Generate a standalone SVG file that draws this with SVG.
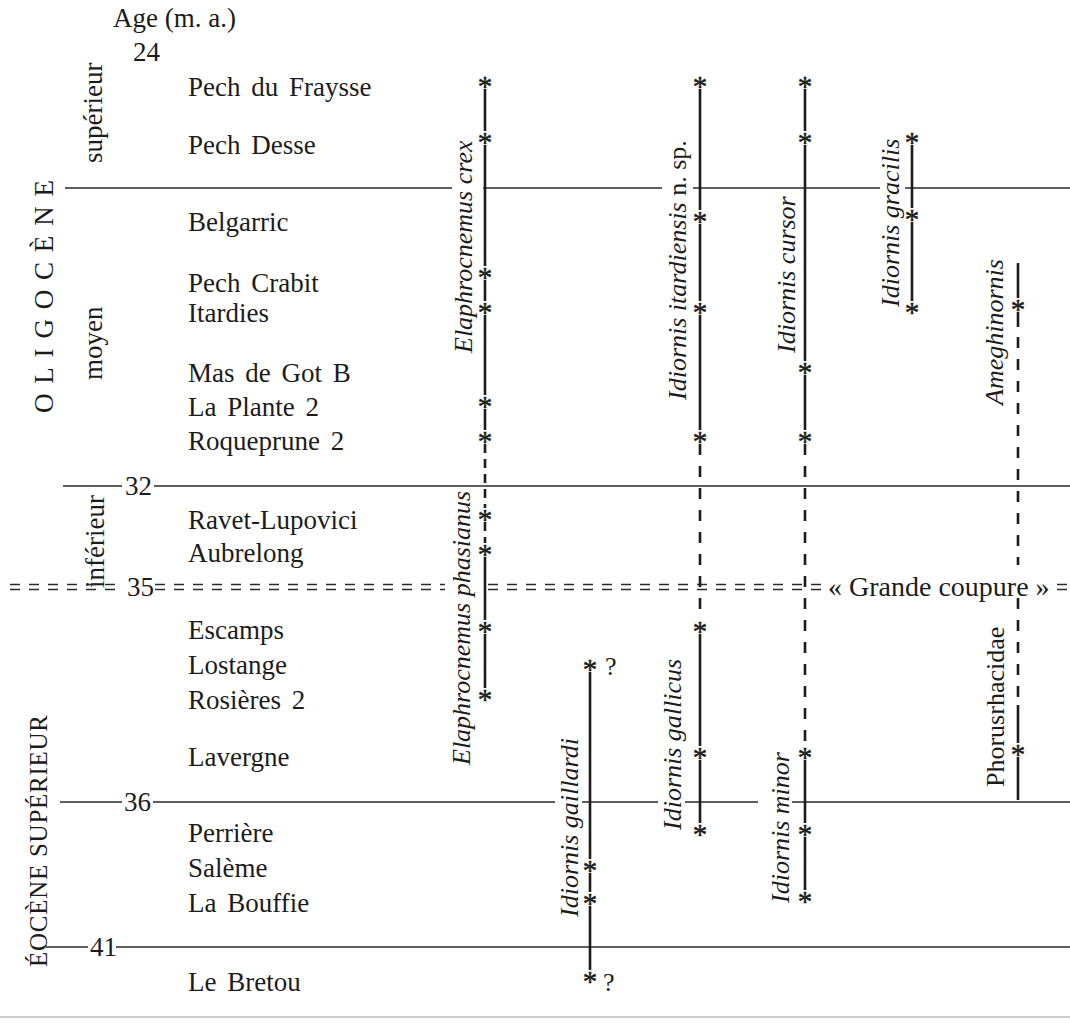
<svg xmlns="http://www.w3.org/2000/svg" width="1070" height="1024" viewBox="0 0 1070 1024">
<style>
  text { font-family: "Liberation Serif", "Times New Roman", serif; fill: #1c1c1c; }
  .loc { font-size: 27px; word-spacing: 4px; }
  .ax { font-size: 27px; }
  .tax { font-size: 26px; font-style: italic; }
  .rom { font-style: normal; }
  .st { font-size: 29px; text-anchor: middle; stroke: #1c1c1c; stroke-width: 0.5; }
  .q { font-size: 26px; }
  .h { stroke: #2a2a2a; stroke-width: 1.6; fill: none; }
  .eq { stroke: #2a2a2a; stroke-width: 1.5; stroke-dasharray: 10 9; fill: none; }
  .r { stroke: #1c1c1c; stroke-width: 2.6; fill: none; }
  .d1 { stroke-dasharray: 9 6; }
  .d2 { stroke-dasharray: 11 11; }
</style>
<rect width="1070" height="1024" fill="#ffffff"/>

<g id="axis-header">
  <text class="ax" x="113" y="27">Age (m. a.)</text>
  <text class="ax" x="133" y="61">24</text>
</g>

<g id="epochs">
  <text class="ax" transform="translate(102,163) rotate(-90)">supérieur</text>
  <text class="ax" transform="translate(53,413) rotate(-90)" textLength="233" lengthAdjust="spacing">OLIGOCÈNE</text>
  <text class="ax" transform="translate(102,380) rotate(-90)">moyen</text>
  <text class="ax" transform="translate(104,588) rotate(-90)">inférieur</text>
  <text class="ax" style="font-size:25px" transform="translate(47,967) rotate(-90)" textLength="252" lengthAdjust="spacing">ÉOCÈNE SUPÉRIEUR</text>
</g>

<g id="localities">
  <text class="loc" x="188" y="96">Pech du Fraysse</text>
  <text class="loc" x="188" y="154">Pech Desse</text>
  <text class="loc" x="188" y="231">Belgarric</text>
  <text class="loc" x="188" y="292">Pech Crabit</text>
  <text class="loc" x="188" y="322">Itardies</text>
  <text class="loc" x="188" y="382">Mas de Got B</text>
  <text class="loc" x="188" y="416">La Plante 2</text>
  <text class="loc" x="188" y="450">Roqueprune 2</text>
  <text class="loc" x="188" y="529">Ravet-Lupovici</text>
  <text class="loc" x="188" y="562">Aubrelong</text>
  <text class="loc" x="188" y="639">Escamps</text>
  <text class="loc" x="188" y="674">Lostange</text>
  <text class="loc" x="188" y="709">Rosières 2</text>
  <text class="loc" x="188" y="766">Lavergne</text>
  <text class="loc" x="188" y="842">Perrière</text>
  <text class="loc" x="188" y="877">Salème</text>
  <text class="loc" x="188" y="912">La Bouffie</text>
  <text class="loc" x="188" y="991">Le Bretou</text>
</g>

<g id="boundaries">
  <path class="h" d="M65 188H452M483 188H662M693 188H880M905 188H1070"/>
  <path class="h" d="M63 486H122M154 486H1070"/>
  <text class="ax" x="125" y="495">32</text>
  <path class="eq" d="M10 584.5H124M155 584.5H445M488 584.5H826M1057 584.5H1068M10 589.5H124M155 589.5H445M488 589.5H826M1057 589.5H1068"/>
  <text class="ax" x="127" y="596">35</text>
  <text class="ax" style="font-size:28px" x="828" y="596">« Grande coupure »</text>
  <path class="h" d="M60 802H122M153 802H555M582 802H658M685 802H758M792 802H1070"/>
  <text class="ax" x="124" y="811">36</text>
  <path class="h" d="M46 947H88M116 947H1070"/>
  <text class="ax" x="90" y="956">41</text>
  <path d="M0 1017H1070" stroke="#cfcfcf" stroke-width="2"/>
</g>

<g id="elaphrocnemus">
  <path class="r" d="M485 89V131M485 145V266M485 280V301M485 315V395M485 409V430M485 557V620M485 634V688"/>
  <path class="r d1" d="M485 444V508M485 522V543"/>
  <g class="st">
    <text x="485" y="96">*</text><text x="485" y="152">*</text><text x="485" y="287">*</text><text x="485" y="322">*</text>
    <text x="485" y="416">*</text><text x="485" y="451">*</text><text x="485" y="529">*</text><text x="485" y="564">*</text>
    <text x="485" y="641">*</text><text x="485" y="709">*</text>
  </g>
  <text class="tax" transform="translate(472,353) rotate(-90)">Elaphrocnemus crex</text>
  <text class="tax" transform="translate(470,765) rotate(-90)">Elaphrocnemus phasianus</text>
</g>

<g id="idiornis-gaillardi">
  <path class="r" d="M590 672V859M590 873V892M590 906V970"/>
  <g class="st">
    <text x="590" y="679">*</text><text x="590" y="880">*</text><text x="590" y="913">*</text><text x="590" y="991">*</text>
  </g>
  <text class="q" x="605" y="675">?</text>
  <text class="q" x="603" y="991">?</text>
  <text class="tax" transform="translate(578,917) rotate(-90)">Idiornis gaillardi</text>
</g>

<g id="idiornis-itardiensis-gallicus">
  <path class="r" d="M700 89V210M700 224V301M700 315V430M700 634V746M700 760V823"/>
  <path class="r d2" d="M700 444V620"/>
  <g class="st">
    <text x="700" y="96">*</text><text x="700" y="231">*</text><text x="700" y="322">*</text><text x="700" y="451">*</text>
    <text x="700" y="641">*</text><text x="700" y="767">*</text><text x="700" y="844">*</text>
  </g>
  <text class="tax" transform="translate(686,400) rotate(-90)">Idiornis itardiensis<tspan class="rom"> n. sp.</tspan></text>
  <text class="tax" transform="translate(681,830) rotate(-90)">Idiornis gallicus</text>
</g>

<g id="idiornis-cursor-minor">
  <path class="r" d="M805 89V131M805 145V361M805 375V430M805 760V823M805 837V890"/>
  <path class="r d2" d="M805 444V746"/>
  <g class="st">
    <text x="805" y="96">*</text><text x="805" y="152">*</text><text x="805" y="382">*</text><text x="805" y="451">*</text>
    <text x="805" y="767">*</text><text x="805" y="844">*</text><text x="805" y="911">*</text>
  </g>
  <text class="tax" transform="translate(795,353) rotate(-90)">Idiornis cursor</text>
  <text class="tax" transform="translate(789,903) rotate(-90)">Idiornis minor</text>
</g>

<g id="idiornis-gracilis">
  <path class="r" d="M912 145V208M912 222V301"/>
  <g class="st">
    <text x="912" y="152">*</text><text x="912" y="229">*</text><text x="912" y="322">*</text>
  </g>
  <text class="tax" transform="translate(899,307) rotate(-90)">Idiornis gracilis</text>
</g>

<g id="ameghinornis-phorusrhacidae">
  <path class="r" d="M1018 263V298M1018 312V327M1018 705V743M1018 757V800"/>
  <path class="r d2" d="M1018 337V565M1018 598V702"/>
  <g class="st">
    <text x="1018" y="319">*</text><text x="1018" y="764">*</text>
  </g>
  <text class="tax" transform="translate(1003,405) rotate(-90)">Ameghinornis</text>
  <text class="ax" style="font-size:26px" transform="translate(1004,787) rotate(-90)">Phorusrhacidae</text>
</g>
</svg>
